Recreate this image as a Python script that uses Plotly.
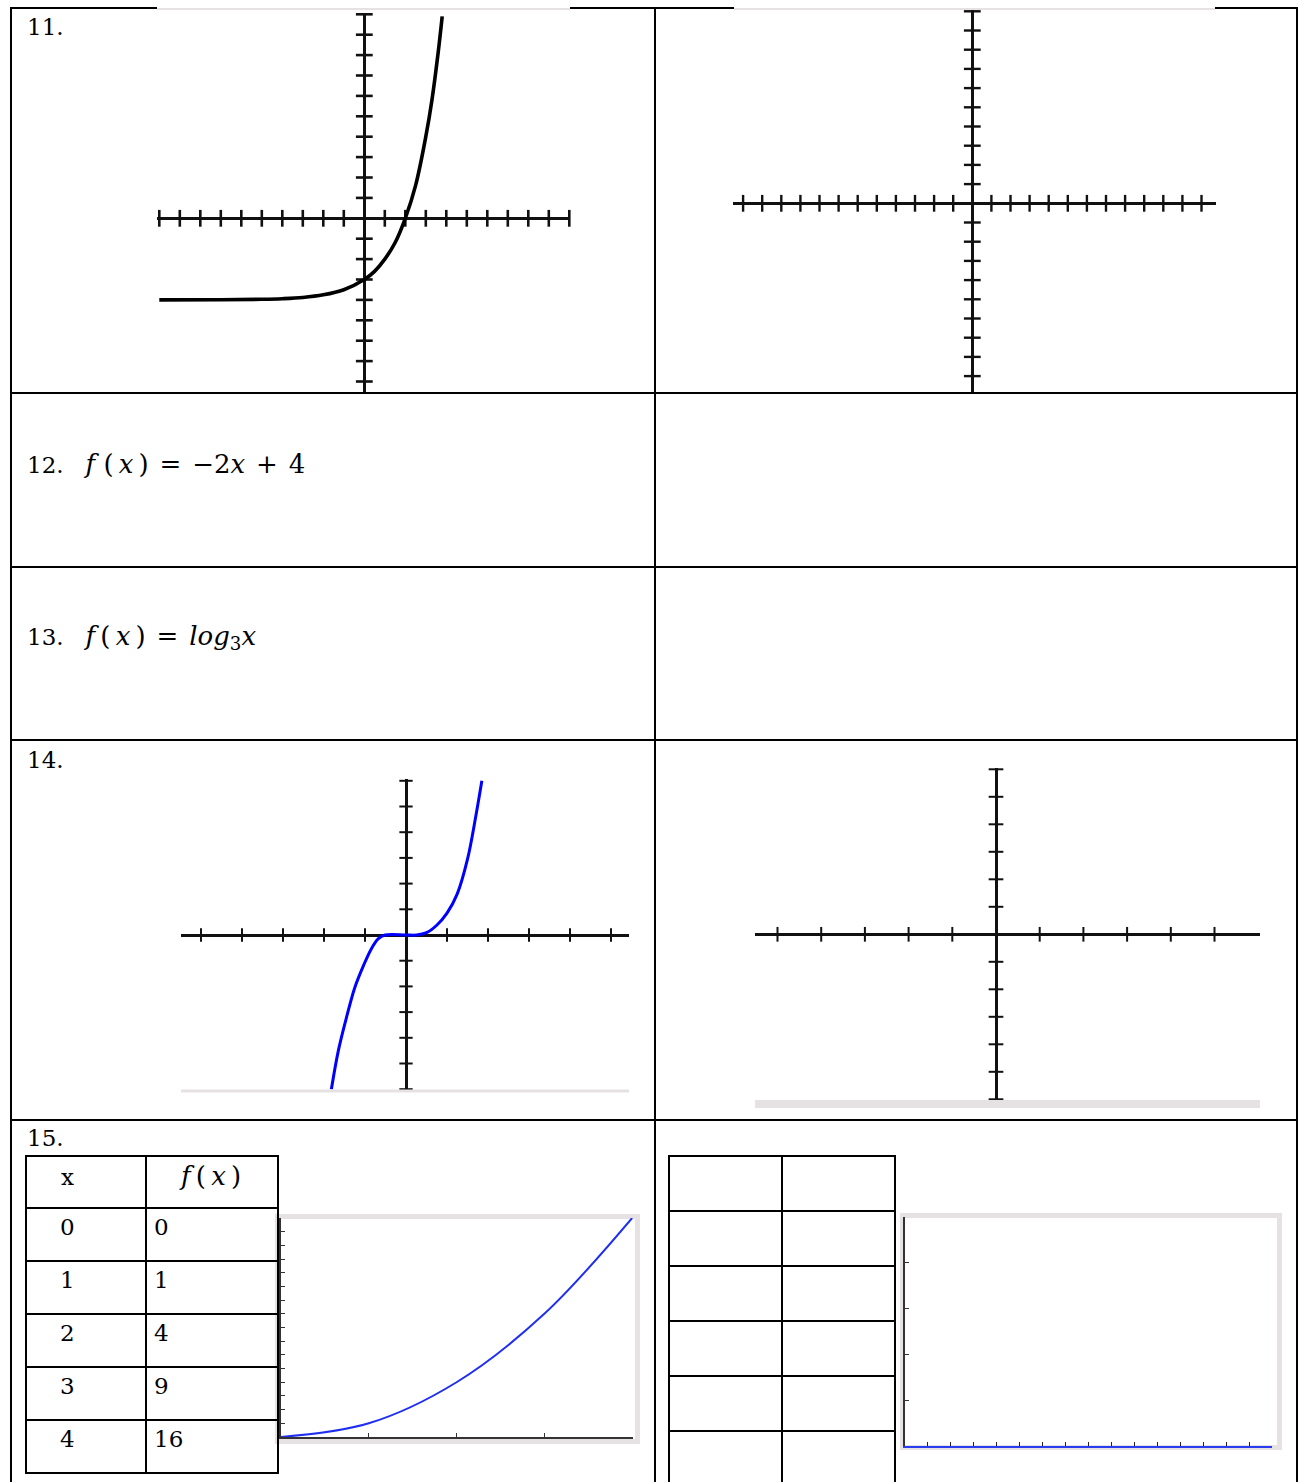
import plotly.graph_objects as go

W, H = 1298, 1482

# --- data read from the worksheet ---
# 11. exponential curve
exp_x = [-10, -7, -5, -4, -3, -2, -1, 0, 0.5, 1, 1.5, 2, 2.5, 3, 3.3, 3.6, 3.8]
exp_y = [-4, -3.99, -3.97, -3.94, -3.88, -3.75, -3.5, -3, -2.6, -2, -1.2, 0, 1.6, 4, 5.8, 8.1, 9.9]

# 14. cubic-like curve
cub_x = [-1.82, -1.65, -1.45, -1.25, -1.04, -0.85, -0.68, -0.51, 0, 0.26, 0.5, 0.75, 1.0, 1.25, 1.5, 1.7, 1.85]
cub_y = [-6, -4.5, -3.2, -2.05, -1.2, -0.55, -0.15, 0, 0, 0, 0.09, 0.38, 0.85, 1.6, 2.95, 4.6, 6.0]

# 15. table of values
tbl_x = [0, 1, 2, 3, 4]
tbl_fx = [0, 1, 4, 9, 16]

FONT = "DejaVu Serif"
FS = 23
MS = 26  # size used for the math expressions
BLUE = "#0000ff"
GRAY = "#e6e2e4"


def px(x):
    return x / W


def py(y):
    return 1 - y / H


def hline(y, x0, x1, color="black", width=2):
    return dict(type="line", xref="paper", yref="paper", x0=px(x0), x1=px(x1),
                y0=py(y), y1=py(y), line=dict(color=color, width=width))


def vline(x, y0, y1, color="black", width=2):
    return dict(type="line", xref="paper", yref="paper", x0=px(x), x1=px(x),
                y0=py(y0), y1=py(y1), line=dict(color=color, width=width))


def label(x, y, text, anchor="left", size=FS):
    return dict(x=px(x), y=py(y), xref="paper", yref="paper", text=text,
                showarrow=False, xanchor=anchor, yanchor="middle", borderpad=0,
                font=dict(family=FONT, size=size, color="black"))


def math(s):
    return f"<span style='font-size:{MS}px'>{s}</span>"


fig = go.Figure()
layout = {}


def cross_graph(n, box, origin, unit, xticks, yticks, tick_size, tick_w, axis_w):
    x0, y0, x1, y1 = box
    ox, oy = origin
    ux, uy = unit
    sx = "" if n == 1 else str(n)
    layout["xaxis" + sx] = dict(domain=[px(x0), px(x1)], range=[(x0 - ox) / ux, (x1 - ox) / ux],
                                anchor="y" + sx, showgrid=False, showticklabels=False, ticks="",
                                zeroline=True, zerolinecolor="#111", zerolinewidth=axis_w, fixedrange=True)
    layout["yaxis" + sx] = dict(domain=[py(y1), py(y0)], range=[(oy - y1) / uy, (oy - y0) / uy],
                                anchor="x" + sx, showgrid=False, showticklabels=False, ticks="",
                                zeroline=True, zerolinecolor="#111", zerolinewidth=axis_w, fixedrange=True)
    fig.add_trace(go.Scatter(x=xticks, y=[0] * len(xticks), mode="markers", cliponaxis=False,
                             marker=dict(symbol="line-ns", size=tick_size,
                                         line=dict(color="#111", width=tick_w)),
                             xaxis="x" + sx, yaxis="y" + sx, hoverinfo="skip"))
    fig.add_trace(go.Scatter(x=[0] * len(yticks), y=yticks, mode="markers", cliponaxis=False,
                             marker=dict(symbol="line-ew", size=tick_size,
                                         line=dict(color="#111", width=tick_w)),
                             xaxis="x" + sx, yaxis="y" + sx, hoverinfo="skip"))


# 11. left graph
cross_graph(1, (157, 13, 570, 393), (364.3, 218.3), (20.5, 20.4),
            [k for k in range(-10, 11) if k], [k for k in range(-8, 11) if k], 12, 2.6, 3)
fig.add_trace(go.Scatter(x=exp_x, y=exp_y, mode="lines", line=dict(color="black", width=3.6, shape="spline"),
                         xaxis="x", yaxis="y", cliponaxis=False))

# 11. right graph (blank grid)
cross_graph(2, (733, 10, 1216, 393), (972.3, 203.3), (19.1, 19.2),
            [k for k in range(-12, 13) if k], [k for k in range(-9, 11) if k], 12, 2.4, 2.6)

# 14. left graph
cross_graph(3, (181, 779, 629, 1091), (406, 935), (41, 25.7),
            [k for k in range(-5, 6) if k], [k for k in range(-6, 7) if k], 9.5, 2, 2.5)
fig.add_trace(go.Scatter(x=cub_x, y=cub_y, mode="lines", line=dict(color=BLUE, width=3, shape="spline"),
                         xaxis="x3", yaxis="y3", cliponaxis=False))

# 14. right graph (blank grid)
cross_graph(4, (755, 768, 1260, 1101), (996, 934.3), (43.7, 27.5),
            [k for k in range(-5, 6) if k], [k for k in range(-6, 7) if k], 10.5, 2, 2.5)

# 15. left graph (quadratic from table)
layout["xaxis5"] = dict(domain=[px(281), px(633)], range=[0, 4.01], anchor="y5", showgrid=False,
                        zeroline=False, showline=True, linecolor="#333", linewidth=2,
                        ticks="inside", ticklen=4, tickcolor="#333", tickvals=[1, 2, 3, 4],
                        showticklabels=False, fixedrange=True)
layout["yaxis5"] = dict(domain=[py(1437), py(1218)], range=[0, 16], anchor="x5", showgrid=False,
                        zeroline=False, showline=True, linecolor="#333", linewidth=2,
                        ticks="inside", ticklen=4, tickcolor="#333", dtick=1,
                        showticklabels=False, fixedrange=True)
fig.add_trace(go.Scatter(x=tbl_x, y=tbl_fx, mode="lines", line=dict(color="#1f2ff0", width=2, shape="spline"),
                         xaxis="x5", yaxis="y5", cliponaxis=False))

# 15. right graph (blank answer grid)
layout["xaxis6"] = dict(domain=[px(905), px(1272)], range=[0, 16], anchor="y6", showgrid=False,
                        zeroline=False, showline=True, linecolor="#2a3cf0", linewidth=2,
                        ticks="inside", ticklen=4, tickcolor="#222", dtick=1,
                        showticklabels=False, fixedrange=True)
layout["yaxis6"] = dict(domain=[py(1446), py(1217)], range=[0, 5], anchor="x6", showgrid=False,
                        zeroline=False, showline=True, linecolor="#333", linewidth=2,
                        ticks="inside", ticklen=4, tickcolor="#333", dtick=1,
                        showticklabels=False, fixedrange=True)
fig.add_trace(go.Scatter(x=[], y=[], mode="lines", xaxis="x6", yaxis="y6"))

# --- worksheet table lines ---
shapes = []
shapes += [hline(8, 10, 157), hline(8, 570, 734), hline(8, 1215, 1298)]
shapes += [hline(9, 157, 570, GRAY, 2), hline(9, 734, 1215, GRAY, 2)]
for y in [393, 567, 740, 1120]:
    shapes.append(hline(y, 10, 1298))
for x in [11, 655, 1297]:
    shapes.append(vline(x, 7, 1482))

# image edges (light gray)
shapes.append(hline(1091, 181, 629, GRAY, 3))
shapes.append(hline(1104, 755, 1260, GRAY, 8))
for (a, b, c, d) in [(275, 1214, 640, 1444), (900, 1213, 1282, 1450)]:
    shapes.append(dict(type="rect", xref="paper", yref="paper", x0=px(a + 2.5), x1=px(c - 2.5),
                       y0=py(d - 2.5), y1=py(b + 2.5), line=dict(color=GRAY, width=5), layer="below"))

# table for 15 (left)
rows_l = [1156, 1208, 1261, 1314, 1367, 1420, 1473]
for y in rows_l:
    shapes.append(hline(y, 25, 279))
for x in [26, 146, 278]:
    shapes.append(vline(x, 1155, 1474))

# blank table (right)
rows_r = [1156, 1211, 1266, 1321, 1376, 1431]
for y in rows_r:
    shapes.append(hline(y, 668, 896))
for x in [669, 782, 895]:
    shapes.append(vline(x, 1155, 1482))

# --- text ---
sp = "\u00a0\u00a0\u00a0"
gap = "\u00a0\u200a"
annotations = [
    label(26, 27, "11."),
    label(26, 464, "12." + sp + math("<i>f</i>\u00a0(\u2009<i>x</i>\u2009)" + gap + "=" + gap
                                     + "−2<i>x</i>" + gap + "+" + gap + "4")),
    label(26, 638, "13." + sp + math("<i>f</i>\u2009(\u2009<i>x</i>\u2009)" + gap + "=" + gap
                                     + "<i>log</i><sub>3</sub><i>x</i>")),
    label(26, 760, "14."),
    label(26, 1138, "15."),
    label(67, 1177, "x", "center"),
    label(210, 1176, math("<i>f</i>\u2009(\u2009<i>x</i>\u2009)"), "center"),
]
for i, (xv, fv) in enumerate(zip(tbl_x, tbl_fx)):
    yc = rows_l[i + 1] + 19
    annotations.append(label(67, yc, str(xv), "center"))
    annotations.append(label(153, yc, str(fv), "left"))

fig.update_layout(
    width=W, height=H, margin=dict(l=0, r=0, t=0, b=0),
    paper_bgcolor="white", plot_bgcolor="rgba(0,0,0,0)",
    showlegend=False, shapes=shapes, annotations=annotations,
    **layout,
)

fig.write_html("out.html", config={"displayModeBar": False},
               post_script="document.body.style.margin='0px';")
